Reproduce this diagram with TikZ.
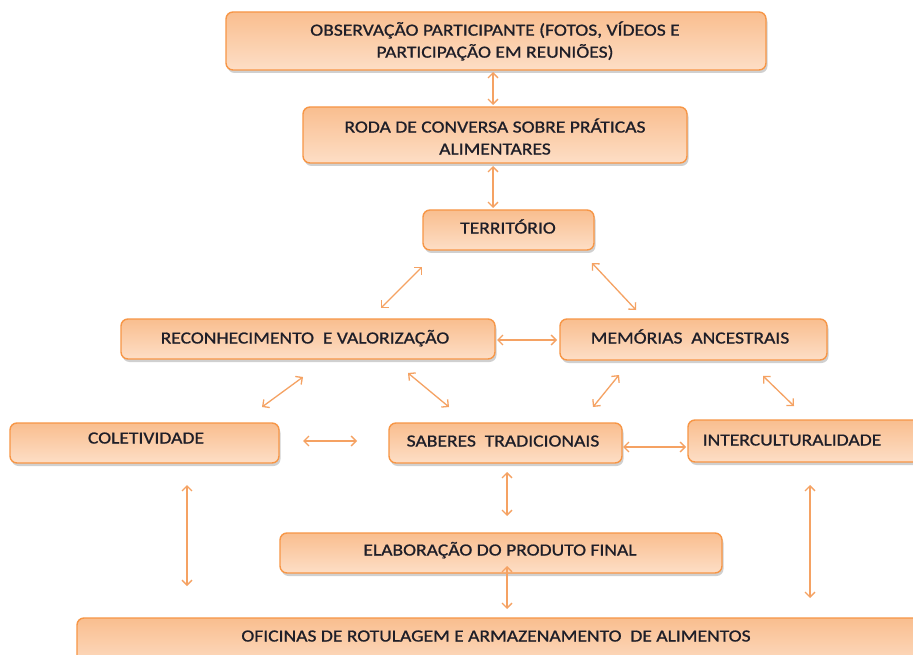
\documentclass[tikz,border=0pt]{standalone}
\usepackage{fontspec}
\setmainfont{Carlito}[FakeStretch=1.15,FakeBold=0.9]
\usetikzlibrary{arrows.meta,shadows}
\definecolor{boxline}{HTML}{F79646}
\definecolor{boxtop}{HTML}{F9BE8F}
\definecolor{boxbot}{HTML}{FDDEC6}
\definecolor{arrcol}{HTML}{F5A263}
\definecolor{txtcol}{HTML}{1E1E28}
\tikzset{
  box/.style={draw=boxline, line width=1.4pt, rounded corners=7pt,
    top color=boxtop, bottom color=boxbot, inner sep=0pt,
    drop shadow={shadow xshift=1.5pt, shadow yshift=-3pt, opacity=0.3, fill=black!60}},
  txt/.style={text=txtcol, font=\fontsize{17}{22}\selectfont, inner sep=0pt, align=center},
  one/.style={text height=11pt, text depth=0pt},
  arr/.style={draw=arrcol, line width=1.3pt, {Straight Barb[length=5pt,width=10pt]}-{Straight Barb[length=5pt,width=10pt]}}
}
\begin{document}
\begin{tikzpicture}[x=1pt,y=-1pt]
\useasboundingbox (0,0) rectangle (913,655);
\fill[white] (0,0) rectangle (913,655);
\begin{scope}
\clip (0,0) rectangle (913,655);
% boxes
\node[box, minimum width=540pt, minimum height=58pt] (obs) at (496,41) {};
\node[box, minimum width=384pt, minimum height=56pt] (roda) at (495,135) {};
\node[box, minimum width=171pt, minimum height=40pt] (terr) at (508.5,230) {};
\node[box, minimum width=374pt, minimum height=40pt] (rec) at (308,339) {};
\node[box, minimum width=267pt, minimum height=41pt] (mem) at (693.5,339.5) {};
\node[box, minimum width=269pt, minimum height=40pt] (col) at (144.5,443) {};
\node[box, minimum width=233pt, minimum height=40pt] (sab) at (505.5,443) {};
\node[box, minimum width=237pt, minimum height=42pt] (inter) at (806.5,441) {};
\node[box, minimum width=442pt, minimum height=40pt] (elab) at (501,553) {};
\node[box, minimum width=848pt, minimum height=52pt] (ofi) at (501,644) {};
% texts
\node[txt] (obs-t) at (495,41) {OBSERVAÇÃO PARTICIPANTE (FOTOS, VÍDEOS E\\PARTICIPAÇÃO EM REUNIÕES)};
\node[txt] (roda-t) at (495,136.5) {RODA DE CONVERSA SOBRE PRÁTICAS\\ALIMENTARES};
\node[txt,one] (terr-t) at (508,228) {TERRITÓRIO};
\node[txt,one] (rec-t) at (305,338) {RECONHECIMENTO\ \ E VALORIZAÇÃO};
\node[txt,one] (mem-t) at (690,338) {MEMÓRIAS\ \ ANCESTRAIS};
\node[txt,one] (col-t) at (146,438) {COLETIVIDADE};
\node[txt,one] (sab-t) at (503,441) {SABERES\ \ TRADICIONAIS};
\node[txt,one] (inter-t) at (792,440) {INTERCULTURALIDADE};
\node[txt,one] (elab-t) at (500,550) {ELABORAÇÃO DO PRODUTO FINAL};
\node[txt,one] (ofi-t) at (496,636) {OFICINAS DE ROTULAGEM E ARMAZENAMENTO\ \ DE ALIMENTOS};
% arrow endpoints
\coordinate (a1s) at (493,72);  \coordinate (a1e) at (493,105);
\coordinate (a2s) at (493,166); \coordinate (a2e) at (493,208);
\coordinate (a3s) at (422,267); \coordinate (a3e) at (381,308);
\coordinate (a4s) at (592,263); \coordinate (a4e) at (636,310);
\coordinate (a5s) at (497,340); \coordinate (a5e) at (557,340);
\coordinate (a6s) at (303,377); \coordinate (a6e) at (262,407);
\coordinate (a7s) at (408,373); \coordinate (a7e) at (449,407);
\coordinate (a8s) at (619,375); \coordinate (a8e) at (593,407);
\coordinate (a9s) at (763,376); \coordinate (a9e) at (794,406);
\coordinate (a10s) at (303,441); \coordinate (a10e) at (357,441);
\coordinate (a11s) at (623,447); \coordinate (a11e) at (686,447);
\coordinate (a12s) at (187,485); \coordinate (a12e) at (187,586);
\coordinate (a13s) at (507,472); \coordinate (a13e) at (507,516);
\coordinate (a14s) at (810,485); \coordinate (a14e) at (810,598);
\coordinate (a15s) at (507,566); \coordinate (a15e) at (507,609);
\foreach \i in {1,...,15} { \draw[arr] (a\i s) -- (a\i e); }
\end{scope}
\end{tikzpicture}
\end{document}
